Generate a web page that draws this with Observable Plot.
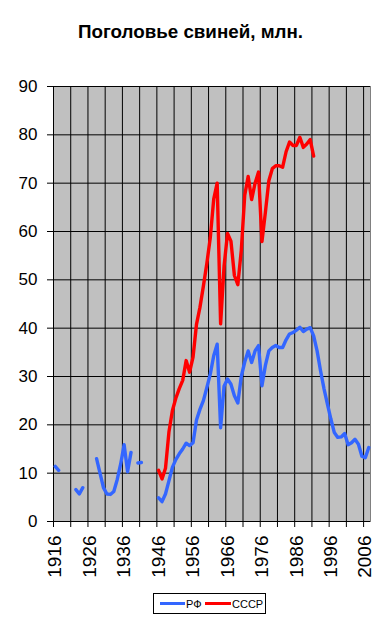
<!DOCTYPE html>
<html>
<head>
<meta charset="utf-8">
<script src="https://cdn.jsdelivr.net/npm/d3@7"></script>
<script src="https://cdn.jsdelivr.net/npm/@observablehq/plot@0.6"></script>
<style>
  html, body { margin: 0; padding: 0; background: #fff; }
  body { width: 381px; height: 620px; position: relative; overflow: hidden; font-family: "Liberation Sans", Arial, sans-serif; }
  #title { position: absolute; left: 0; top: 22px; width: 381px; text-align: center; font-weight: bold; font-size: 18.8px; line-height: 19px; color: #000; }
  #chart { position: absolute; left: 0; top: 60px; }
  #legend { position: absolute; left: 153px; top: 593px; width: 111px; height: 19px; border: 1px solid #000; background: #fff; }
</style>
</head>
<body>
<div id="title">Поголовье свиней, млн.</div>
<div id="chart"></div>
<div id="legend"></div>
<script>
// ---- data ----
const seriesNames = ["РФ", "СССР"];
const seriesColors = ["#3366ff", "#ff0000"];

const rfYears = [
  1916,1917,1918,1919,1920,1921,1922,1923,1924,1925,1926,1927,1928,1929,1930,
  1931,1932,1933,1934,1935,1936,1937,1938,1939,1940,1941,1942,1943,1944,1945,
  1946,1947,1948,1949,1950,1951,1952,1953,1954,1955,1956,1957,1958,1959,1960,
  1961,1962,1963,1964,1965,1966,1967,1968,1969,1970,1971,1972,1973,1974,1975,
  1976,1977,1978,1979,1980,1981,1982,1983,1984,1985,1986,1987,1988,1989,1990,
  1991,1992,1993,1994,1995,1996,1997,1998,1999,2000,2001,2002,2003,2004,2005,
  2006,2007
];
const rfValues = [
  11.4,10.6,null,null,null,null,6.6,5.7,7.0,null,null,null,13.0,10.0,7.0,
  5.7,5.6,6.2,8.7,11.9,15.9,10.3,14.3,null,12.1,12.2,null,null,null,null,
  4.9,4.1,5.7,8.4,11.2,12.8,14.0,15.0,16.2,15.7,16.3,21.0,23.2,25.0,27.7,
  30.5,34.3,36.7,19.4,28.0,29.5,28.4,26.0,24.5,30.0,33.0,35.3,32.9,35.3,36.4,
  28.1,32.3,35.3,36.0,36.4,36.0,36.0,37.6,38.8,39.1,39.6,40.2,39.3,39.8,40.1,
  38.4,35.3,31.2,27.5,24.3,21.2,18.4,17.4,17.5,18.2,15.9,16.3,17.0,16.0,13.5,
  13.2,15.3
];

const ussrYears = [
  1946,1947,1948,1949,1950,1951,1952,1953,1954,1955,1956,1957,1958,1959,1960,
  1961,1962,1963,1964,1965,1966,1967,1968,1969,1970,1971,1972,1973,1974,1975,
  1976,1977,1978,1979,1980,1981,1982,1983,1984,1985,1986,1987,1988,1989,1990,
  1991
];
const ussrValues = [
  10.6,8.8,11.0,18.5,22.9,25.5,27.5,29.2,33.3,30.9,34.0,40.8,44.3,48.7,53.4,
  58.7,66.7,70.0,40.9,52.8,59.6,58.0,50.9,49.0,56.1,67.5,71.4,66.6,70.0,72.3,
  57.9,64.0,70.5,73.0,73.6,73.6,73.3,76.5,78.5,77.8,77.8,79.5,77.4,78.1,79.0,
  75.6
];

const yTicks = [0,10,20,30,40,50,60,70,80,90];
const xTickLabels = [1916,1926,1936,1946,1956,1966,1976,1986,1996,2006];
const firstYear = 1916, lastYear = 2007;

// ---- build tables ----
const rf = rfYears.map((y, i) => ({year: y, value: rfValues[i]}));
const ussr = ussrYears.map((y, i) => ({year: y, value: ussrValues[i]}));
// category boundaries every 5 years (Excel-style ticks between categories)
const boundaries = d3.range(firstYear - 0.5, lastYear, 5);

const font = "'Liberation Sans', Arial, sans-serif";

const chart = Plot.plot({
  width: 381,
  height: 530,
  marginTop: 26,
  marginBottom: 69,
  marginLeft: 53,
  marginRight: 11,
  x: {domain: [firstYear - 0.5, lastYear + 0.5], axis: null, label: null},
  y: {domain: [0, 90], axis: null, label: null},
  style: {fontFamily: font, background: "transparent", color: "#000", overflow: "visible"},
  marks: [
    Plot.frame({fill: "#c0c0c0", stroke: "#808080"}),
    Plot.gridX(boundaries, {stroke: "#000", strokeOpacity: 1, strokeWidth: 1}),
    Plot.gridY(yTicks, {stroke: "#000", strokeOpacity: 1, strokeWidth: 1}),
    Plot.axisY(yTicks, {tickSize: 6, tickPadding: 10, fontSize: 17, stroke: "#000", label: null}),
    Plot.axisX(boundaries, {tickSize: 6, tickFormat: () => "", stroke: "#000", label: null}),
    Plot.axisX(xTickLabels, {tickSize: 0, tickPadding: 14, tickRotate: -90, fontSize: 19, tickFormat: d => String(d), label: null}),
    Plot.ruleX([firstYear - 0.5], {stroke: "#000"}),
    Plot.ruleY([0], {stroke: "#000"}),
    Plot.line(rf, {x: "year", y: "value", stroke: seriesColors[0], strokeWidth: 3.4, strokeLinejoin: "round", strokeLinecap: "round"}),
    Plot.line(ussr, {x: "year", y: "value", stroke: seriesColors[1], strokeWidth: 3.4, strokeLinejoin: "round", strokeLinecap: "round"})
  ]
});
document.getElementById("chart").appendChild(chart);

// ---- legend ----
const ns = "http://www.w3.org/2000/svg";
const lg = document.createElementNS(ns, "svg");
lg.setAttribute("width", 111);
lg.setAttribute("height", 19);
const items = [
  {x1: 6, x2: 31, tx: 32},
  {x1: 51, x2: 77, tx: 78}
];
items.forEach((it, i) => {
  const l = document.createElementNS(ns, "line");
  l.setAttribute("x1", it.x1); l.setAttribute("x2", it.x2);
  l.setAttribute("y1", 9.5); l.setAttribute("y2", 9.5);
  l.setAttribute("stroke", seriesColors[i]); l.setAttribute("stroke-width", 3);
  lg.appendChild(l);
  const t = document.createElementNS(ns, "text");
  t.setAttribute("x", it.tx); t.setAttribute("y", 13.5);
  t.setAttribute("font-size", 11);
  t.setAttribute("font-family", font);
  t.textContent = seriesNames[i];
  lg.appendChild(t);
});
document.getElementById("legend").appendChild(lg);
</script>
</body>
</html>
